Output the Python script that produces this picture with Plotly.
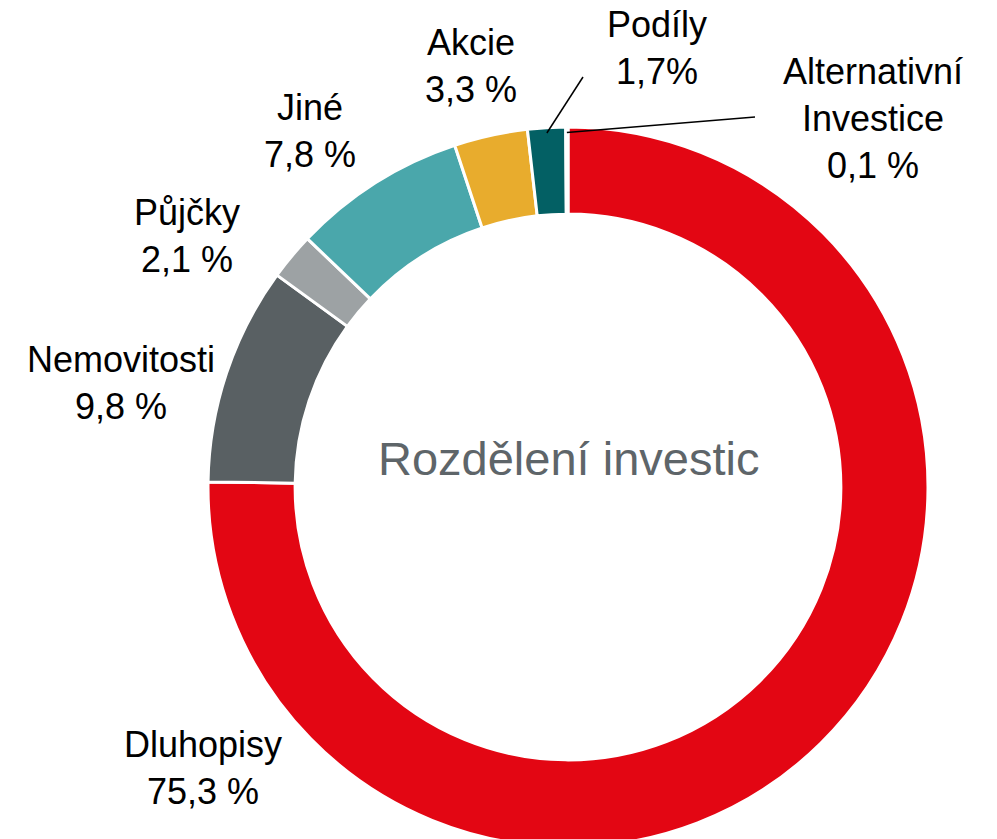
import math
import plotly.graph_objects as go

# data
categories = ["Dluhopisy", "Nemovitosti", "Půjčky", "Jiné", "Akcie", "Podíly",
              "Alternativní<br>Investice"]
shares = [75.3, 9.8, 2.1, 7.8, 3.3, 1.7, 0.1]
share_texts = ["75,3 %", "9,8 %", "2,1 %", "7,8 %", "3,3 %", "1,7%", "0,1 %"]
colors = ["#E30613", "#596063", "#9DA2A4", "#4AA7AB", "#E8AC2D", "#036064", "#8A1A2B"]

W, H = 997, 839
OFF = 8  # page body margin
cx, cy, R = 568 - OFF, 487 - OFF, 360  # donut centre / radius in pixels
hole = 0.758

# label centres in screen pixels (x, y from top)
label_pos = [(203, 768), (121, 383), (187, 236), (310, 131), (471, 66),
             (657, 48), (873, 118)]
# leader line ends (label side) for the tiny slices
leaders = {5: (583, 77), 6: (755, 117)}

FONT = "Arial, Liberation Sans, sans-serif"

fig = go.Figure(go.Pie(
    labels=categories,
    values=shares,
    hole=hole,
    sort=False,
    direction="clockwise",
    rotation=0,
    marker=dict(colors=colors, line=dict(color="white", width=3)),
    textinfo="none",
    hoverinfo="label+value",
    domain=dict(x=[(cx - R) / W, (cx + R) / W], y=[0, min(1, 2 * R / H)]),
    showlegend=False,
))

annotations = []
for name, txt, (px, py) in zip(categories, share_texts, label_pos):
    annotations.append(dict(
        x=(px - OFF) / W, y=1 - (py - OFF) / H, xref="paper", yref="paper",
        text=f"{name}<br>{txt}", showarrow=False,
        xanchor="center", yanchor="middle",
        font=dict(family=FONT, size=36, color="black"),
    ))

annotations.append(dict(
    x=cx / W, y=1 - (458 - OFF) / H, xref="paper", yref="paper",
    text="Rozdělení investic", showarrow=False,
    xanchor="center", yanchor="middle",
    font=dict(family=FONT, size=47, color="#5E6569"),
))

# leader lines from slice midpoints to labels
total = sum(shares)
shapes = []
cum = 0
for i, v in enumerate(shares):
    mid = (cum + v / 2) / total * 2 * math.pi
    cum += v
    if i in leaders:
        r = R * 0.985
        sx = cx + r * math.sin(mid)
        sy = cy - r * math.cos(mid)
        ex, ey = leaders[i]
        ex, ey = ex - OFF, ey - OFF
        shapes.append(dict(
            type="line", xref="paper", yref="paper",
            x0=sx / W, y0=1 - sy / H, x1=ex / W, y1=1 - ey / H,
            line=dict(color="black", width=1.5),
        ))

fig.update_layout(
    width=W, height=H,
    margin=dict(l=0, r=0, t=0, b=0),
    paper_bgcolor="white",
    plot_bgcolor="white",
    annotations=annotations,
    shapes=shapes,
)

fig.write_html("out.html")
